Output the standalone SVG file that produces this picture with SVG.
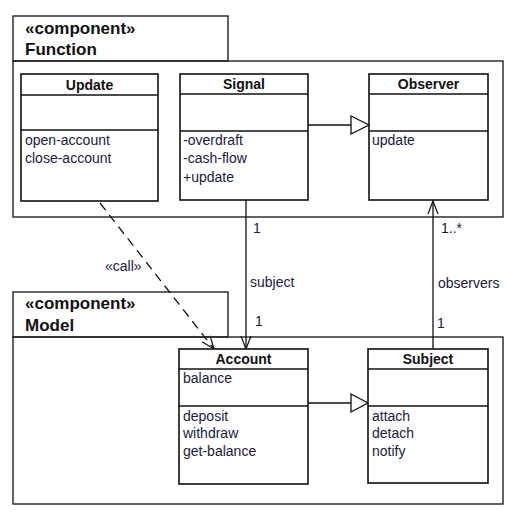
<svg xmlns="http://www.w3.org/2000/svg" width="516" height="515" viewBox="0 0 516 515">
<style>
.pk{fill:none;stroke:#222;stroke-width:1.4}
.cls{fill:#fff;stroke:#111;stroke-width:1.6}
.dv{stroke:#111;stroke-width:1.3}
.st{font-family:"Liberation Sans",Arial,sans-serif;font-weight:bold;font-size:17px;fill:#111}
.nm{font-family:"Liberation Sans",Arial,sans-serif;font-weight:bold;font-size:14px;fill:#111;text-anchor:middle}
.tx{font-family:"Liberation Sans",Arial,sans-serif;font-size:14px;fill:#1a1a3a}
.lb{font-family:"Liberation Sans",Arial,sans-serif;font-size:14px;fill:#1a1a3a}
.ln{fill:none;stroke:#111;stroke-width:1.3}
.tri{fill:#fff;stroke:#111;stroke-width:1.3}
</style>
<defs>
<marker id="open" markerWidth="14" markerHeight="12" refX="13" refY="6" orient="auto" markerUnits="userSpaceOnUse">
<path d="M0,1 L13,6 L0,11" fill="none" stroke="#111" stroke-width="1.2"/>
</marker>
</defs>
<g id="pkg-function">
<rect class="pk" x="13" y="16" width="215" height="45"/>
<rect class="pk" x="13" y="61" width="490" height="156"/>
<text class="st" x="25" y="34">«component»</text>
<text class="st" x="25" y="55">Function</text>
</g>
<g id="pkg-model">
<rect class="pk" x="13" y="292" width="215" height="45"/>
<rect class="pk" x="13" y="337" width="490" height="167"/>
<text class="st" x="25" y="309">«component»</text>
<text class="st" x="25" y="331">Model</text>
</g>
<g id="connectors">
<line class="ln" x1="308" y1="125" x2="351" y2="125"/>
<polygon class="tri" points="351,116 369,125 351,134"/>
<line class="ln" x1="308" y1="403" x2="351" y2="403"/>
<polygon class="tri" points="351,394 368,403 351,412"/>
<line class="ln" x1="246" y1="200" x2="246" y2="349" marker-end="url(#open)"/>
<line class="ln" x1="433" y1="349" x2="433" y2="201" marker-end="url(#open)"/>
<line class="ln" x1="100" y1="203" x2="214" y2="349" stroke-dasharray="9,6" marker-end="url(#open)"/>
<text class="lb" x="105" y="271" font-size="12.5">«call»</text>
<text class="lb" x="253" y="233">1</text>
<text class="lb" x="250" y="287">subject</text>
<text class="lb" x="255" y="326">1</text>
<text class="lb" x="441" y="233">1..*</text>
<text class="lb" x="438" y="288">observers</text>
<text class="lb" x="437" y="328">1</text>
</g>
<g id="Update">
<rect class="cls" x="21" y="74" width="137" height="127"/>
<line class="dv" x1="21" y1="95" x2="158" y2="95"/>
<line class="dv" x1="21" y1="130" x2="158" y2="130"/>
<text class="nm" x="89.5" y="90">Update</text>
<text class="tx" x="25" y="145">open-account</text>
<text class="tx" x="25" y="163">close-account</text>
</g>
<g id="Signal">
<rect class="cls" x="180" y="74" width="128" height="126"/>
<line class="dv" x1="180" y1="94" x2="308" y2="94"/>
<line class="dv" x1="180" y1="131" x2="308" y2="131"/>
<text class="nm" x="244" y="89">Signal</text>
<text class="tx" x="183" y="145">-overdraft</text>
<text class="tx" x="183" y="163">-cash-flow</text>
<text class="tx" x="183" y="182">+update</text>
</g>
<g id="Observer">
<rect class="cls" x="369" y="74" width="119" height="126"/>
<line class="dv" x1="369" y1="94" x2="488" y2="94"/>
<line class="dv" x1="369" y1="131" x2="488" y2="131"/>
<text class="nm" x="428.5" y="89">Observer</text>
<text class="tx" x="372" y="145">update</text>
</g>
<g id="Account">
<rect class="cls" x="179" y="349" width="129" height="135"/>
<line class="dv" x1="179" y1="369" x2="308" y2="369"/>
<line class="dv" x1="179" y1="406" x2="308" y2="406"/>
<text class="nm" x="243.5" y="364">Account</text>
<text class="tx" x="183" y="383">balance</text>
<text class="tx" x="183" y="421">deposit</text>
<text class="tx" x="183" y="438">withdraw</text>
<text class="tx" x="183" y="456">get-balance</text>
</g>
<g id="Subject">
<rect class="cls" x="368" y="349" width="120" height="134"/>
<line class="dv" x1="368" y1="369" x2="488" y2="369"/>
<line class="dv" x1="368" y1="406" x2="488" y2="406"/>
<text class="nm" x="428" y="364">Subject</text>
<text class="tx" x="372" y="421">attach</text>
<text class="tx" x="372" y="438">detach</text>
<text class="tx" x="372" y="456">notify</text>
</g>
</svg>
